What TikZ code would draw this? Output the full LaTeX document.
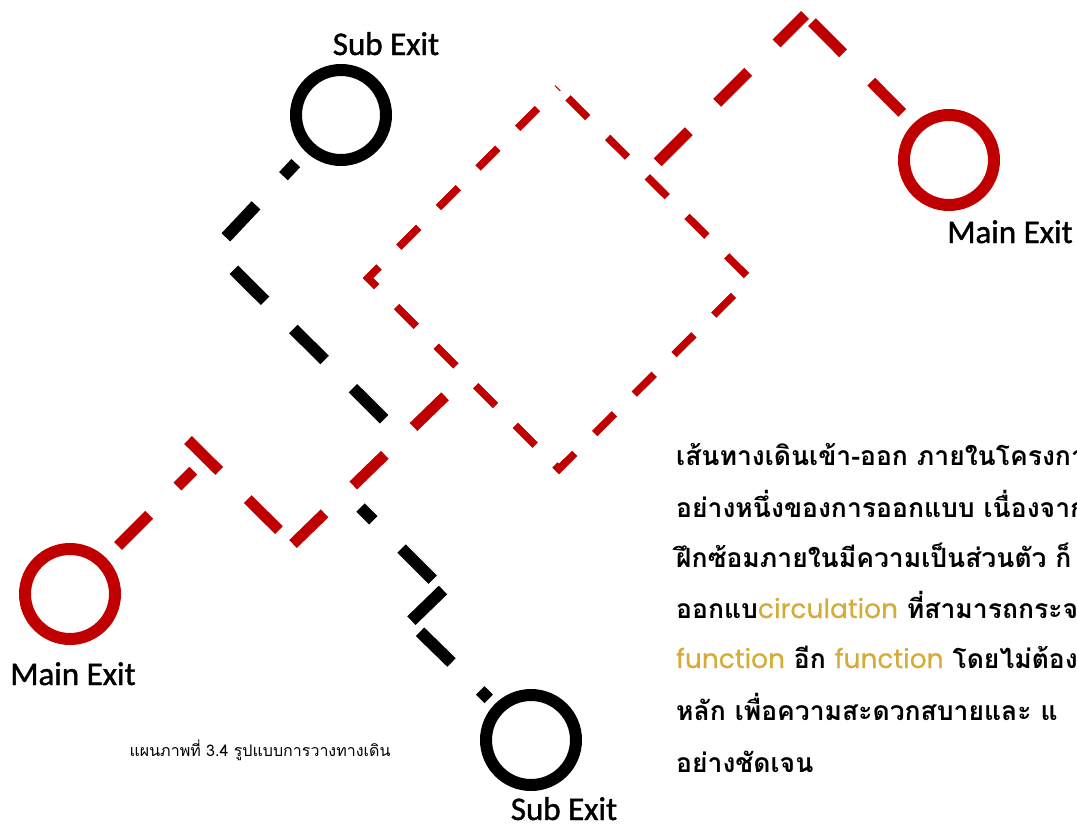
\documentclass[tikz,border=0pt]{standalone}
\usepackage{fontspec}
\newfontfamily\thaifont[Script=Thai]{Loma}
\newfontfamily\labelfont[FakeBold=1.2]{Carlito}
\newfontfamily\latinfont[FakeBold=0.6]{Poppins}
\definecolor{exitred}{RGB}{192,0,0}
\definecolor{gold}{RGB}{212,172,56}
\begin{document}
\begin{tikzpicture}[x=1pt,y=-1pt,
  blkline/.style={line width=12pt,dash pattern=on 44pt off 40pt},
  redline/.style={exitred,line width=11pt,dash pattern=on 44pt off 40pt},
  roomline/.style={exitred,line width=7.5pt,dash pattern=on 28pt off 28pt,dash phase=42pt},
  exitb/.style={circle,draw,line width=12pt,minimum size=90pt,inner sep=0pt,outer sep=0pt},
  exitr/.style={exitb,draw=exitred},
  lbl/.style={font=\labelfont\fontsize{33}{40}\selectfont,anchor=base,inner sep=0pt},
  thai/.style={font=\thaifont\bfseries\fontsize{26.5}{34}\selectfont,anchor=base west,inner sep=0pt}]
\useasboundingbox (0,0) rectangle (1077,828);
% exits
\node[exitb] (subTop) at (341,115) {};
\node[exitb] (subBot) at (531,740) {};
\node[exitr] (mainL) at (70,594) {};
\node[exitr] (mainR) at (949,160) {};
% corners of the walkways
\coordinate (A) at (214,250);
\coordinate (B) at (401,436);
\coordinate (C) at (345,492);
\coordinate (D) at (443,590);
\coordinate (E) at (410,622);
\coordinate (P) at (206,458);
\coordinate (Pstart) at (188,440);
\coordinate (Q) at (293,544);
\coordinate (R) at (466,376);
\coordinate (U) at (645,175);
\coordinate (S) at (805,15);
\coordinate (rmT) at (558,88);
\coordinate (rmR) at (750,279);
\coordinate (rmB) at (559,469);
\coordinate (rmL) at (368,278);
% sub walkway
\draw[blkline,shorten <=21pt,dash phase=26pt] (subTop) -- (A);
\draw[blkline,dash phase=56pt] (A) -- (B);
\draw[blkline,shorten <=22pt,dash phase=26pt] (C) -- (D);
\draw[blkline] (D) -- (E);
\draw[blkline,shorten >=14pt,dash phase=70pt] (E) -- (subBot);
% main walkway
\draw[redline,shorten >=18pt,dash phase=61pt] (mainL) -- (P);
\draw[redline] (Pstart) -- (Q);
\draw[redline] (Q) -- (R);
\draw[redline,dash phase=66pt] (U) -- (S);
\draw[redline,dash phase=74pt] (S) -- (mainR);
\draw[roomline] (rmT) -- (rmR) -- (rmB) -- (rmL) -- cycle;
% labels
\node[lbl] (subTopTxt) at (386,55) {Sub Exit};
\node[lbl] (subBotTxt) at (564,820) {Sub Exit};
\node[lbl] (mainLTxt) at (73,685) {Main Exit};
\node[lbl] (mainRTxt) at (1010,243) {Main Exit};
\node[font=\thaifont\fontsize{16}{18}\selectfont] (caption) at (260,750) {แผนภาพที่ 3.4 รูปแบบการวางทางเดิน};
% text
\node[thai] (t1) at (676,465) {เส้นทางเดินเข้า-ออก ภายในโครงการ};
\node[thai] (t2) at (676,517) {อย่างหนึ่งของการออกแบบ เนื่องจาก};
\node[thai] (t3) at (676,567) {ฝึกซ้อมภายในมีความเป็นส่วนตัว ก็};
\node[thai] (t4) at (676,618) {ออกแบ{\color{gold}\latinfont\mdseries circulation} ที่สามารถกระจาย};
\node[thai] (t5) at (676,668) {{\color{gold}\latinfont\mdseries function} อีก {\color{gold}\latinfont\mdseries function} โดยไม่ต้อง};
\node[thai] (t6) at (676,720) {หลัก เพื่อความสะดวกสบายและ แ};
\node[thai] (t7) at (676,772) {อย่างชัดเจน};
\end{tikzpicture}
\end{document}
